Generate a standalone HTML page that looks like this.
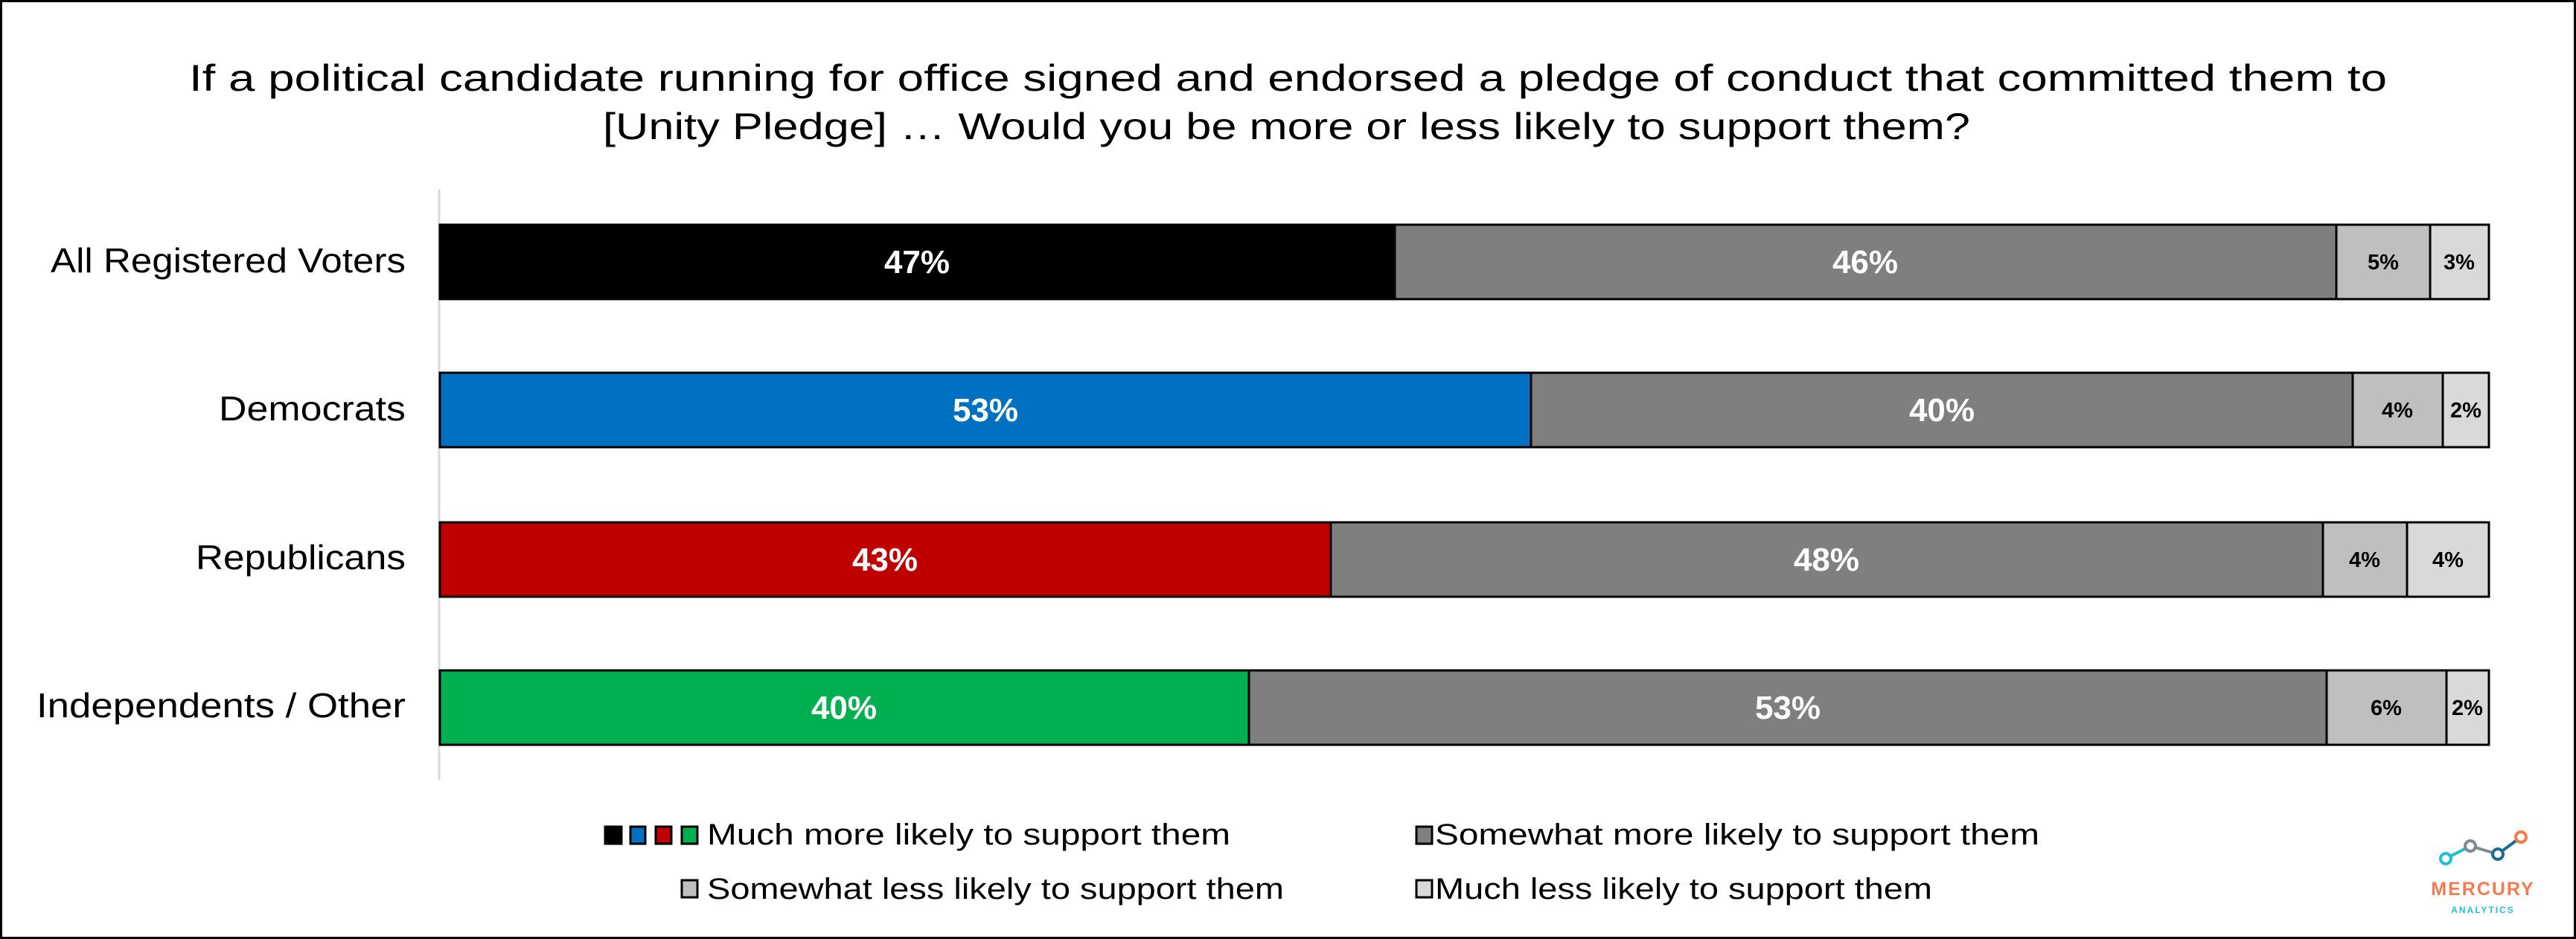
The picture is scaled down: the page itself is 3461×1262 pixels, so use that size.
<!DOCTYPE html>
<html><head><meta charset="utf-8"><style>
html,body{margin:0;padding:0;background:#fff}
svg{display:block}
text{font-family:"Liberation Sans",sans-serif}
</style></head><body>
<svg width="3461" height="1262" viewBox="0 0 3461 1262" xmlns="http://www.w3.org/2000/svg">
<rect x="1.5" y="1.5" width="3458" height="1259" fill="#fff" stroke="#000" stroke-width="3"/>
<text x="254" y="122" font-size="50" textLength="2953" lengthAdjust="spacingAndGlyphs">If a political candidate running for office signed and endorsed a pledge of conduct that committed them to</text>
<text x="810" y="187" font-size="50" textLength="1837" lengthAdjust="spacingAndGlyphs">[Unity Pledge] … Would you be more or less likely to support them?</text>
<line x1="590" y1="254" x2="590" y2="1048" stroke="#d9d9d9" stroke-width="3"/>
<g font-size="46">
<text x="68" y="366" textLength="477" lengthAdjust="spacingAndGlyphs">All Registered Voters</text>
<text x="294" y="565" textLength="251" lengthAdjust="spacingAndGlyphs">Democrats</text>
<text x="263" y="765" textLength="282" lengthAdjust="spacingAndGlyphs">Republicans</text>
<text x="49" y="964" textLength="496" lengthAdjust="spacingAndGlyphs">Independents / Other</text>
</g>
<g stroke="#000" stroke-width="3">
<rect x="591" y="302" width="1283" height="100" fill="#000"/>
<rect x="1874" y="302" width="1265" height="100" fill="#7f7f7f"/>
<rect x="3139" y="302" width="126" height="100" fill="#bfbfbf"/>
<rect x="3265" y="302" width="79" height="100" fill="#d9d9d9"/>
<rect x="591" y="501" width="1466" height="100" fill="#0070c0"/>
<rect x="2057" y="501" width="1104" height="100" fill="#7f7f7f"/>
<rect x="3161" y="501" width="121" height="100" fill="#bfbfbf"/>
<rect x="3282" y="501" width="62" height="100" fill="#d9d9d9"/>
<rect x="591" y="702" width="1197" height="100" fill="#c00000"/>
<rect x="1788" y="702" width="1333" height="100" fill="#7f7f7f"/>
<rect x="3121" y="702" width="113" height="100" fill="#bfbfbf"/>
<rect x="3234" y="702" width="110" height="100" fill="#d9d9d9"/>
<rect x="591" y="901" width="1087" height="100" fill="#00b050"/>
<rect x="1678" y="901" width="1448" height="100" fill="#7f7f7f"/>
<rect x="3126" y="901" width="161" height="100" fill="#bfbfbf"/>
<rect x="3287" y="901" width="57" height="100" fill="#d9d9d9"/>
</g>
<g font-size="44" font-weight="bold" fill="#fff" text-anchor="middle">
<text x="1232" y="367">47%</text><text x="2506" y="367">46%</text>
<text x="1324" y="566">53%</text><text x="2609" y="566">40%</text>
<text x="1189" y="767">43%</text><text x="2454" y="767">48%</text>
<text x="1134" y="966">40%</text><text x="2402" y="966">53%</text>
</g>
<g font-size="29" font-weight="bold" fill="#000" text-anchor="middle">
<text x="3202" y="362">5%</text><text x="3304" y="362">3%</text>
<text x="3221" y="561">4%</text><text x="3313" y="561">2%</text>
<text x="3177" y="762">4%</text><text x="3289" y="762">4%</text>
<text x="3206" y="961">6%</text><text x="3315" y="961">2%</text>
</g>
<g stroke="#000" stroke-width="3">
<rect x="813" y="1111" width="22" height="23" fill="#000"/>
<rect x="847" y="1111" width="20" height="23" fill="#0070c0"/>
<rect x="881" y="1111" width="21" height="23" fill="#c00000"/>
<rect x="916" y="1111" width="21" height="23" fill="#00b050"/>
<rect x="916" y="1183" width="21" height="23" fill="#bfbfbf"/>
<rect x="1903" y="1111" width="21" height="23" fill="#7f7f7f"/>
<rect x="1903" y="1183" width="21" height="23" fill="#d9d9d9"/>
</g>
<g font-size="40">
<text x="950" y="1135" textLength="703" lengthAdjust="spacingAndGlyphs">Much more likely to support them</text>
<text x="950" y="1208" textLength="775" lengthAdjust="spacingAndGlyphs">Somewhat less likely to support them</text>
<text x="1928" y="1135" textLength="812" lengthAdjust="spacingAndGlyphs">Somewhat more likely to support them</text>
<text x="1928" y="1208" textLength="668" lengthAdjust="spacingAndGlyphs">Much less likely to support them</text>
</g>
<g fill="#fff" stroke-width="4">
<line x1="3286" y1="1154" x2="3319" y2="1137" stroke="#1fbfcf"/>
<line x1="3319" y1="1137" x2="3356" y2="1148" stroke="#7f8c8d"/>
<line x1="3356" y1="1148" x2="3387" y2="1125" stroke="#1a6f8f"/>
<circle cx="3286" cy="1154" r="7" stroke="#1fbfcf"/>
<circle cx="3319" cy="1137" r="7" stroke="#7f8c8d"/>
<circle cx="3356" cy="1148" r="7" stroke="#1a6f8f"/>
<circle cx="3387" cy="1125" r="7" stroke="#f47b4f"/>
</g>
<text x="3336" y="1203" font-size="25" font-weight="bold" fill="#f47b4f" text-anchor="middle" letter-spacing="2">MERCURY</text>
<text x="3336" y="1227" font-size="12" font-weight="bold" fill="#1fbfcf" text-anchor="middle" letter-spacing="2">ANALYTICS</text>
</svg>
</body></html>
